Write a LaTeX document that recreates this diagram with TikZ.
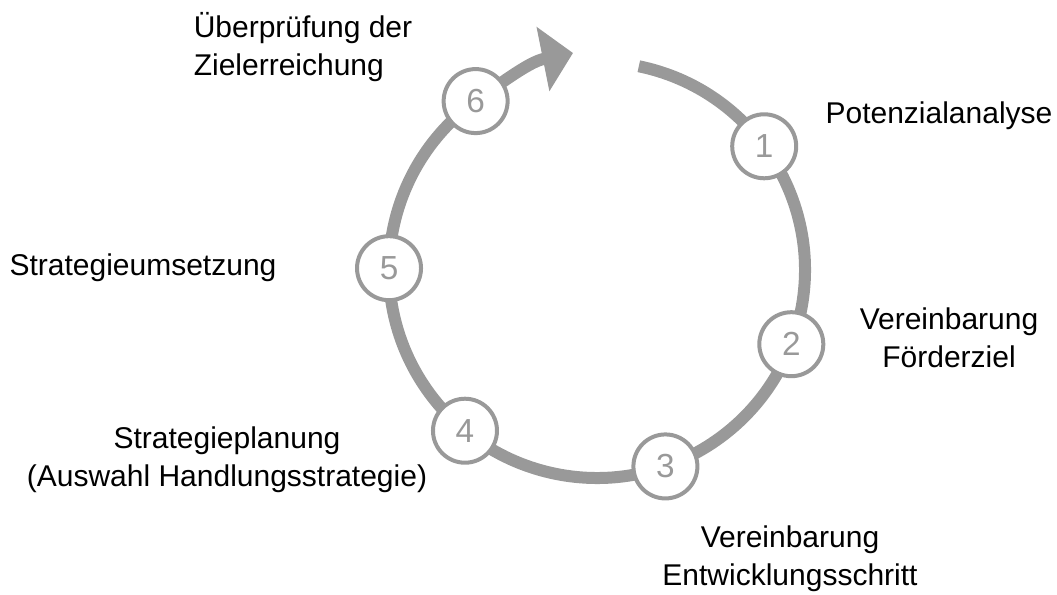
\documentclass[tikz,border=0pt]{standalone}
\usepackage{fontspec}
\setmainfont{Liberation Sans}
\usetikzlibrary{arrows.meta}
\definecolor{ringgray}{HTML}{999999}

\tikzset{
  ring/.style={draw=ringgray, line width=9pt, -{Triangle[length=23pt,width=48pt]}},
  desc/.style={align=center, text=black, inner sep=0pt, font=\fontsize{22.5}{28.5}\selectfont}
}

\begin{document}
\begin{tikzpicture}[x=0.75pt, y=0.75pt]
        \tikzstyle{stage}=[circle,draw=ringgray,line width=3pt,fill=white,minimum size=48pt,inner sep=0pt,text=ringgray,font=\fontsize{25}{28}\selectfont]

        \useasboundingbox (0,0) rectangle (1057,594);

        \coordinate (M) at (597,324);
        \coordinate (A) at ([shift={(78.4:208)}]M);
        \coordinate (tip) at (573,541);

        % the cycle, drawn first so the steps sit on top
        \draw[ring] (A) arc[start angle=78.4, end angle=-234.3, radius=208]
            to[out=35.7, in=191.3] (tip);

        \node[stage] (S1) at ([shift={(36.5:208)}]M)   {1};
        \node[stage] (S2) at ([shift={(-20.9:208)}]M)  {2};
        \node[stage] (S3) at ([shift={(-70.8:208)}]M)  {3};
        \node[stage] (S4) at ([shift={(-129.4:208)}]M) {4};
        \node[stage] (S5) at ([shift={(179.5:208)}]M)  {5};
        \node[stage] (S6) at ([shift={(125.7:208)}]M)  {6};

        \node[desc, align=left] (T6) at (303,547) {Überprüfung der\\Zielerreichung};
        \node[desc] (T1) at (939,478) {Potenzialanalyse};
        \node[desc] (T2) at (949,256) {Vereinbarung\\Förderziel};
        \node[desc] (T3) at (790,35)  {Vereinbarung\\Entwicklungsschritt};
        \node[desc] (T4) at (227,134) {Strategieplanung\\(Auswahl Handlungsstrategie)};
        \node[desc] (T5) at (143,326) {Strategieumsetzung};
\end{tikzpicture}
\end{document}
